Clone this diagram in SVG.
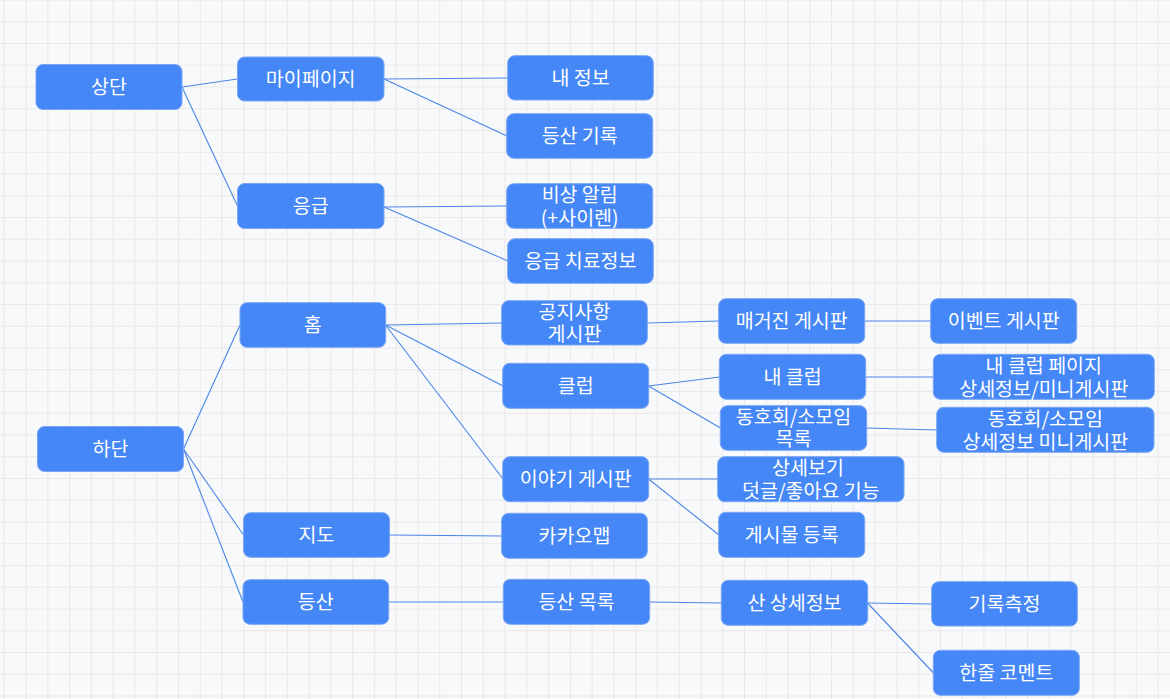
<svg xmlns="http://www.w3.org/2000/svg" width="1170" height="699" viewBox="0 0 1170 699">
<style>
.n rect{fill:#4587f6;stroke:#78a6f4;stroke-width:1}
.n text{fill:#ffffff;font-family:"Noto Sans CJK KR","Noto Sans",sans-serif;font-size:19.5px;text-anchor:middle;dominant-baseline:central}
#edges line{stroke:#4a86e8;stroke-width:1.1}
</style>
<defs>
<pattern id="grid" patternUnits="userSpaceOnUse" x="3.8" y="-0.5" width="21.77" height="21.75">
<path d="M0.5 0V21.75M0 0.5H21.77" stroke="#ebe8e9" stroke-width="1.2" fill="none"/>
</pattern>
</defs>
<rect width="1170" height="699" fill="#f8f9fb"/>
<rect width="1170" height="699" fill="url(#grid)"/>
<g id="edges">
<line x1="182" y1="87" x2="237.5" y2="79"/>
<line x1="182" y1="87" x2="237.5" y2="206"/>
<line x1="384" y1="79" x2="508" y2="78"/>
<line x1="384" y1="79" x2="507" y2="136"/>
<line x1="384" y1="207" x2="507" y2="206"/>
<line x1="384" y1="207" x2="508" y2="261"/>
<line x1="183.5" y1="449" x2="240" y2="325"/>
<line x1="183.5" y1="449" x2="243.5" y2="535"/>
<line x1="183.5" y1="449" x2="243" y2="602"/>
<line x1="385.5" y1="325" x2="502" y2="323"/>
<line x1="385.5" y1="325" x2="503" y2="386"/>
<line x1="385.5" y1="325" x2="503" y2="479"/>
<line x1="647" y1="323" x2="719" y2="321"/>
<line x1="864.5" y1="321" x2="931" y2="321"/>
<line x1="648.5" y1="386" x2="719.5" y2="377"/>
<line x1="648.5" y1="386" x2="720.5" y2="428"/>
<line x1="865.5" y1="377" x2="933.5" y2="377"/>
<line x1="866.5" y1="428" x2="937" y2="430"/>
<line x1="648.5" y1="479" x2="718" y2="479"/>
<line x1="648.5" y1="479" x2="719" y2="535"/>
<line x1="389.5" y1="535" x2="502" y2="536"/>
<line x1="388.5" y1="602" x2="503.5" y2="602"/>
<line x1="649.5" y1="602" x2="721.5" y2="603"/>
<line x1="867.5" y1="603" x2="932" y2="604"/>
<line x1="867.5" y1="603" x2="933.5" y2="673"/>
</g>
<g id="n-top" class="n"><rect x="36" y="64.5" width="146" height="45" rx="7"/><text x="109" y="85.5">상단</text></g>
<g id="n-mypage" class="n"><rect x="237.5" y="57" width="146.5" height="44" rx="7"/><text x="310.7" y="77.5">마이페이지</text></g>
<g id="n-emergency" class="n"><rect x="237.5" y="183.5" width="146.5" height="45" rx="7"/><text x="310.7" y="204.5">응급</text></g>
<g id="n-myinfo" class="n"><rect x="507.7" y="55.7" width="145.6" height="44.3" rx="7"/><text x="580.5" y="76.3">내 정보</text></g>
<g id="n-hikerecord" class="n"><rect x="506.7" y="113.7" width="146" height="44.6" rx="7"/><text x="579.7" y="134.5">등산 기록</text></g>
<g id="n-alarm" class="n"><rect x="506.7" y="183.7" width="146" height="44.6" rx="7"/><text x="579.7"><tspan x="579.7" y="192.5">비상 알림</tspan><tspan x="579.7" y="215.5">(+사이렌)</tspan></text></g>
<g id="n-firstaid" class="n"><rect x="507.7" y="238.7" width="145.6" height="44.6" rx="7"/><text x="580.5" y="259.5">응급 치료정보</text></g>
<g id="n-bottom" class="n"><rect x="37.5" y="426.5" width="146" height="45" rx="7"/><text x="110.5" y="447.5">하단</text></g>
<g id="n-home" class="n"><rect x="240" y="302.7" width="145.7" height="44.6" rx="7"/><text x="312.8" y="323.5">홈</text></g>
<g id="n-map" class="n"><rect x="243.5" y="512.7" width="146" height="44.6" rx="7"/><text x="316.5" y="533.5">지도</text></g>
<g id="n-hike" class="n"><rect x="243" y="579.7" width="145.7" height="44.6" rx="7"/><text x="315.8" y="600.5">등산</text></g>
<g id="n-notice" class="n"><rect x="501.7" y="300.7" width="145.6" height="44.3" rx="7"/><text x="574.5"><tspan x="574.5" y="309.5">공지사항</tspan><tspan x="574.5" y="332">게시판</tspan></text></g>
<g id="n-club" class="n"><rect x="502.7" y="363.3" width="146" height="45" rx="7"/><text x="575.7" y="384">클럽</text></g>
<g id="n-story" class="n"><rect x="502.7" y="456.7" width="146" height="45" rx="7"/><text x="575.7" y="477.5">이야기 게시판</text></g>
<g id="n-kakaomap" class="n"><rect x="501.7" y="513.3" width="145.6" height="45" rx="7"/><text x="574.5" y="534">카카오맵</text></g>
<g id="n-hikelist" class="n"><rect x="503.3" y="579.3" width="146.4" height="45" rx="7"/><text x="576.5" y="600">등산 목록</text></g>
<g id="n-magazine" class="n"><rect x="718.7" y="298.7" width="146" height="44.6" rx="7"/><text x="791.7" y="319.5">매거진 게시판</text></g>
<g id="n-myclub" class="n"><rect x="719.3" y="354.3" width="146.4" height="45" rx="7"/><text x="792.5" y="375">내 클럽</text></g>
<g id="n-clublist" class="n"><rect x="720.3" y="405.7" width="146.4" height="44.6" rx="7"/><text x="793.5"><tspan x="793.5" y="414.5">동호회/소모임</tspan><tspan x="793.5" y="437">목록</tspan></text></g>
<g id="n-detail" class="n"><rect x="717.7" y="456.7" width="186.3" height="45" rx="7"/><text x="810"><tspan x="808" y="465.5">상세보기</tspan><tspan x="810.8" y="488.5">덧글/좋아요 기능</tspan></text></g>
<g id="n-post" class="n"><rect x="718.7" y="512.3" width="146" height="45" rx="7"/><text x="791.7" y="533">게시물 등록</text></g>
<g id="n-mountain" class="n"><rect x="721.3" y="580.3" width="146.4" height="45" rx="7"/><text x="794.5" y="601">산 상세정보</text></g>
<g id="n-event" class="n"><rect x="930.7" y="298.7" width="146" height="44.6" rx="7"/><text x="1003.7" y="319.5">이벤트 게시판</text></g>
<g id="n-myclubpage" class="n"><rect x="933.3" y="354.3" width="221" height="45" rx="7"/><text x="1043.8"><tspan x="1043.8" y="363.5">내 클럽 페이지</tspan><tspan x="1043.8" y="386.5">상세정보/미니게시판</tspan></text></g>
<g id="n-clubdetail" class="n"><rect x="936.7" y="407.3" width="217.3" height="45" rx="7"/><text x="1045.3"><tspan x="1045.3" y="416.5">동호회/소모임</tspan><tspan x="1045.3" y="439.5">상세정보 미니게시판</tspan></text></g>
<g id="n-measure" class="n"><rect x="931.7" y="581.7" width="145.6" height="44.3" rx="7"/><text x="1004.5" y="602">기록측정</text></g>
<g id="n-comment" class="n"><rect x="933.3" y="650.3" width="146" height="45" rx="7"/><text x="1006.3" y="671">한줄 코멘트</text></g>
</svg>
